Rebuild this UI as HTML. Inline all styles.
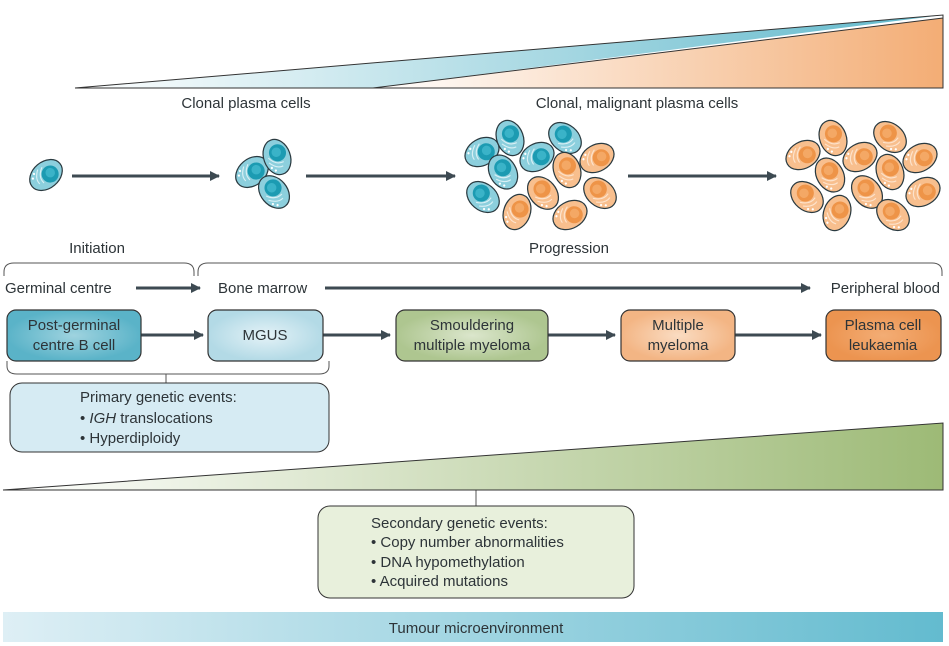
<!DOCTYPE html>
<html><head><meta charset="utf-8"><style>
body{margin:0;background:#fff}
svg{display:block;font-family:"Liberation Sans",sans-serif}
</style></head><body>
<svg width="949" height="646" viewBox="0 0 949 646" xmlns="http://www.w3.org/2000/svg">
<defs>
<linearGradient id="gb" x1="0" x2="1"><stop offset="0" stop-color="#fff"/><stop offset="1" stop-color="#5fb8cb"/></linearGradient>
<linearGradient id="go" x1="0" x2="1"><stop offset="0" stop-color="#fff"/><stop offset="1" stop-color="#f3ad75"/></linearGradient>
<linearGradient id="gg" x1="0" x2="1"><stop offset="0" stop-color="#fff"/><stop offset="1" stop-color="#9dba76"/></linearGradient>
<linearGradient id="gt" x1="0" x2="1"><stop offset="0" stop-color="#deeff5"/><stop offset="1" stop-color="#63bbcf"/></linearGradient>
<radialGradient id="b1"><stop offset="0" stop-color="#9fd3df"/><stop offset="1" stop-color="#5ab3c8"/></radialGradient>
<radialGradient id="b2"><stop offset="0" stop-color="#e4f2f7"/><stop offset="1" stop-color="#b3dae6"/></radialGradient>
<radialGradient id="b3"><stop offset="0" stop-color="#dbe6cc"/><stop offset="1" stop-color="#aec690"/></radialGradient>
<radialGradient id="b4"><stop offset="0" stop-color="#fadcc2"/><stop offset="1" stop-color="#f3b584"/></radialGradient>
<radialGradient id="b5"><stop offset="0" stop-color="#f3ad75"/><stop offset="1" stop-color="#ec9450"/></radialGradient>
<g id="cb"><ellipse rx="14" ry="19" fill="#8ccfdd" stroke="#2a3a40" stroke-width="1.3"/><path d="M-9,-2 q5,10 14,9 M-10,3 q6,9 13,8" fill="none" stroke="#d8f0f5" stroke-width="1.2"/><circle cx="2" cy="-4" r="9" fill="#1c9bb2"/><circle cx="1" cy="-5" r="5" fill="#3ab3c8"/><circle cx="-6" cy="13" r="1.2" fill="#fff"/><circle cx="-9" cy="9" r="1.2" fill="#fff"/></g>
<g id="co"><ellipse rx="14" ry="19" fill="#f8bf8e" stroke="#2a3a40" stroke-width="1.3"/><path d="M-9,-2 q5,10 14,9 M-10,3 q6,9 13,8" fill="none" stroke="#fde3cc" stroke-width="1.2"/><circle cx="2" cy="-4" r="9" fill="#ee9448"/><circle cx="1" cy="-5" r="5" fill="#f4a865"/><circle cx="-6" cy="13" r="1.2" fill="#fff"/><circle cx="-9" cy="9" r="1.2" fill="#fff"/></g>
<marker id="ar" markerWidth="10" markerHeight="10" refX="9" refY="5" orient="auto" markerUnits="userSpaceOnUse"><path d="M0,0 L10,5 L0,10 Z" fill="#3d4a52"/></marker>
</defs>
<polygon points="75,88 943,15 373,88" fill="url(#gb)"/>
<polygon points="373,88 943,18 943,88" fill="url(#go)"/>
<path d="M75,88 L943,15 L943,88 Z M373,88 L943,18" fill="none" stroke="#333" stroke-width="1"/>
<g font-size="15" fill="#2d3438" text-anchor="middle">
<text x="246" y="108">Clonal plasma cells</text>
<text x="637" y="108">Clonal, malignant plasma cells</text>
<text x="97" y="253">Initiation</text>
<text x="569" y="253">Progression</text>
</g>
<use href="#cb" transform="translate(46,175) rotate(50) scale(0.95)"/>
<use href="#cb" transform="translate(252,172) rotate(50) scale(0.95)"/>
<use href="#cb" transform="translate(277,157) rotate(-20) scale(0.95)"/>
<use href="#cb" transform="translate(274,192) rotate(-40) scale(0.95)"/>
<g>
<use href="#cb" transform="translate(482,152) rotate(60) scale(0.95)"/>
<use href="#cb" transform="translate(510,138) rotate(-20) scale(0.95)"/>
<use href="#cb" transform="translate(565,138) rotate(-50) scale(0.95)"/>
<use href="#cb" transform="translate(537,157) rotate(60) scale(0.95)"/>
<use href="#cb" transform="translate(503,172) rotate(-30) scale(0.95)"/>
<use href="#cb" transform="translate(483,197) rotate(-50) scale(0.95)"/>
<use href="#co" transform="translate(597,158) rotate(60) scale(0.95)"/>
<use href="#co" transform="translate(567,170) rotate(-20) scale(0.95)"/>
<use href="#co" transform="translate(543,193) rotate(-40) scale(0.95)"/>
<use href="#co" transform="translate(600,193) rotate(-50) scale(0.95)"/>
<use href="#co" transform="translate(517,212) rotate(20) scale(0.95)"/>
<use href="#co" transform="translate(570,215) rotate(60) scale(0.95)"/>
</g>
<g>
<use href="#co" transform="translate(803,155) rotate(60) scale(0.95)"/>
<use href="#co" transform="translate(833,138) rotate(-20) scale(0.95)"/>
<use href="#co" transform="translate(860,157) rotate(60) scale(0.95)"/>
<use href="#co" transform="translate(890,137) rotate(-50) scale(0.95)"/>
<use href="#co" transform="translate(920,158) rotate(60) scale(0.95)"/>
<use href="#co" transform="translate(830,175) rotate(-30) scale(0.95)"/>
<use href="#co" transform="translate(890,172) rotate(-20) scale(0.95)"/>
<use href="#co" transform="translate(807,197) rotate(-50) scale(0.95)"/>
<use href="#co" transform="translate(867,192) rotate(-40) scale(0.95)"/>
<use href="#co" transform="translate(837,213) rotate(20) scale(0.95)"/>
<use href="#co" transform="translate(893,215) rotate(-50) scale(0.95)"/>
<use href="#co" transform="translate(923,192) rotate(60) scale(0.95)"/>
</g>
<g stroke="#3d4a52" stroke-width="3" marker-end="url(#ar)">
<line x1="72" y1="176" x2="219" y2="176"/>
<line x1="306" y1="176" x2="455" y2="176"/>
<line x1="628" y1="176" x2="776" y2="176"/>
<line x1="136" y1="288" x2="200" y2="288"/>
<line x1="325" y1="288" x2="810" y2="288"/>
<line x1="141" y1="335" x2="203" y2="335"/>
<line x1="323" y1="335" x2="390" y2="335"/>
<line x1="548" y1="335" x2="615" y2="335"/>
<line x1="735" y1="335" x2="821" y2="335"/>
</g>
<g fill="none" stroke="#555" stroke-width="1">
<path d="M4,276 V272 Q4,263 14,263 H184 Q194,263 194,272 V276"/>
<path d="M198,276 V272 Q198,263 208,263 H932 Q942,263 942,272 V276"/>
<path d="M7,361 V366 Q7,374 17,374 H319 Q329,374 329,366 V361 M166,374 V384"/>
<path d="M476,490 V506"/>
</g>
<g font-size="15" fill="#2d3438">
<text x="5" y="293">Germinal centre</text>
<text x="218" y="293">Bone marrow</text>
<text x="940" y="293" text-anchor="end">Peripheral blood</text>
</g>
<g stroke="#333" stroke-width="1.2">
<rect x="7" y="310" width="134" height="51" rx="9" fill="url(#b1)"/>
<rect x="208" y="310" width="115" height="51" rx="9" fill="url(#b2)"/>
<rect x="396" y="310" width="152" height="51" rx="9" fill="url(#b3)"/>
<rect x="621" y="310" width="114" height="51" rx="9" fill="url(#b4)"/>
<rect x="826" y="310" width="115" height="51" rx="9" fill="url(#b5)"/>
</g>
<g font-size="15" fill="#2d3438" text-anchor="middle">
<text x="74" y="330">Post-germinal</text><text x="74" y="350">centre B cell</text>
<text x="265" y="340">MGUS</text>
<text x="472" y="330">Smouldering</text><text x="472" y="350">multiple myeloma</text>
<text x="678" y="330">Multiple</text><text x="678" y="350">myeloma</text>
<text x="883" y="330">Plasma cell</text><text x="883" y="350">leukaemia</text>
</g>
<rect x="10" y="383" width="319" height="69" rx="12" fill="#d6ebf3" stroke="#333" stroke-width="1"/>
<g font-size="15" fill="#2d3438">
<text x="80" y="402">Primary genetic events:</text>
<text x="80" y="423">• <tspan font-style="italic">IGH</tspan> translocations</text>
<text x="80" y="443">• Hyperdiploidy</text>
</g>
<polygon points="3,490 943,423 943,490" fill="url(#gg)" stroke="#333" stroke-width="1"/>
<rect x="318" y="506" width="316" height="92" rx="12" fill="#e8f0dc" stroke="#333" stroke-width="1"/>
<g font-size="15" fill="#2d3438">
<text x="371" y="528">Secondary genetic events:</text>
<text x="371" y="547">• Copy number abnormalities</text>
<text x="371" y="567">• DNA hypomethylation</text>
<text x="371" y="586">• Acquired mutations</text>
</g>
<rect x="3" y="612" width="940" height="30" fill="url(#gt)"/>
<text x="476" y="633" font-size="15" fill="#2d3438" text-anchor="middle">Tumour microenvironment</text>
</svg>
</body></html>
